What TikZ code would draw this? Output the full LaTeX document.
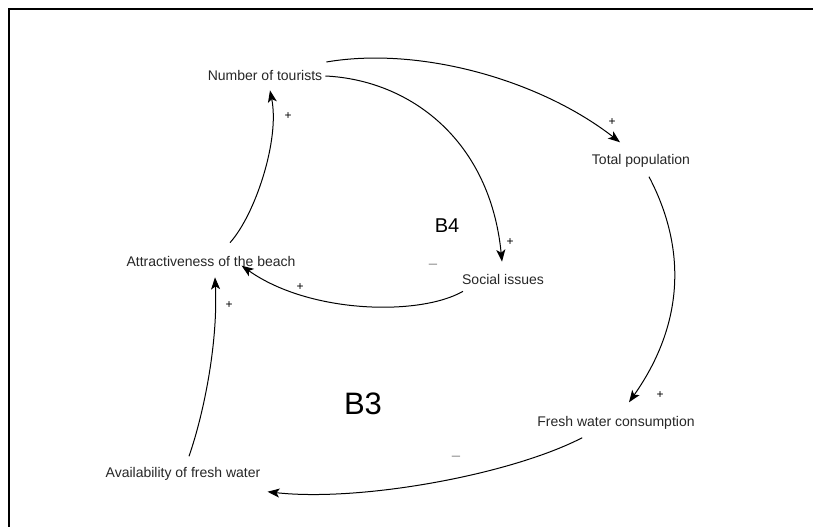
\documentclass[tikz,border=0pt]{standalone}
\usepackage{fontspec}
\setmainfont{Liberation Sans}
\usetikzlibrary{arrows.meta,calc}
\begin{document}
\begin{tikzpicture}[x=1pt,y=-1pt,
  var/.style={inner sep=0pt,text=black!85,font=\fontsize{14}{16}\selectfont},
  loopname/.style={inner sep=0pt,text=black},
  plus/.style={inner sep=0pt,font=\fontsize{12}{12}\selectfont},
  minus/.style={inner sep=0pt,text=black!45,font=\fontsize{15}{15}\selectfont},
  link/.style={line width=1pt,-{Stealth[length=12pt,width=9pt,inset=3pt]}},
  frameline/.style={line width=2.3pt}]
\useasboundingbox (0,0) rectangle (813,527);

% frame edges
\coordinate (ftl) at (9,9);
\coordinate (ftr) at (813,9);
\coordinate (fbl) at (9,527);
\draw[frameline] (ftr) -- (ftl) -- (fbl);

% variables
\node[var] (tour)  at (265,75)  {Number of tourists};
\node[var] (pop)   at (641,161) {Total population};
\node[var] (soc)   at (503,279) {Social issues};
\node[var] (attr)  at (211,261) {Attractiveness of the beach};
\node[var] (fwc)   at (616,423) {Fresh water consumption};
\node[var] (avail) at (183,474) {Availability of fresh water};

% loop names
\node[loopname,font=\fontsize{20}{22}\selectfont] (b4) at (447,226) {B4};
\node[loopname,font=\fontsize{31}{32}\selectfont] (b3) at (363,404) {B3};

% causal links
\draw[link] ($(tour.east)+(4,-13)$) .. controls (420,46) and (540,80) .. ($(pop.north)+(-21,-12)$);
\draw[link] ($(tour.east)+(3,1)$) .. controls (410,80) and (490,140) .. ($(soc.north)+(-1,-12)$);
\draw[link] ($(soc.south west)+(1,7)$) .. controls (420,316) and (310,314) .. ($(attr.north east)+(-54,10)$);
\draw[link] ($(attr.north)+(19,-13)$) .. controls (255,215) and (280,140) .. ($(tour.south)+(5,10)$);
\draw[link] ($(pop.south)+(8,9)$) .. controls (690,255) and (680,330) .. ($(fwc.north)+(13,-14)$);
\draw[link] ($(fwc.south west)+(45,8)$) .. controls (510,475) and (360,502) .. ($(avail.south east)+(7,11)$);
\draw[link] ($(avail.north)+(6,-11)$) .. controls (205,410) and (218,340) .. ($(attr.south)+(4,11)$);

% polarities
\node[plus]  (p1) at (612,122) {+};
\node[plus]  (p2) at (510,242) {+};
\node[plus]  (p3) at (300,287) {+};
\node[plus]  (p4) at (288,116) {+};
\node[plus]  (p5) at (660,395) {+};
\node[plus]  (p6) at (229,305) {+};
\node[minus] (m1) at (433,266) {–};
\node[minus] (m2) at (456,458) {–};
\end{tikzpicture}
\end{document}
